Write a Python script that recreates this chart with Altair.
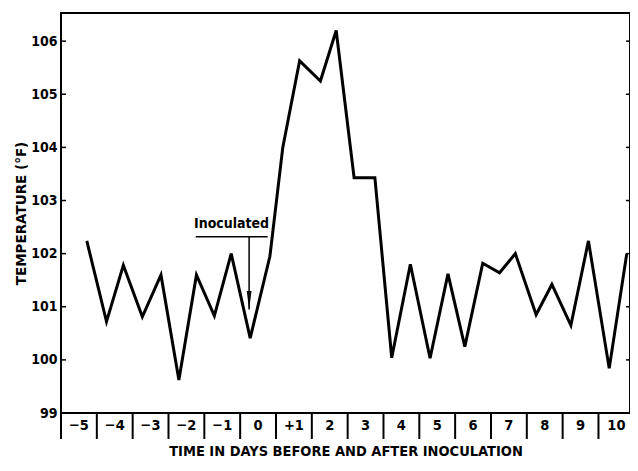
import altair as alt
import pandas as pd

# ---- data ----
times = [-4.78, -4.23, -3.76, -3.23, -2.71, -2.21, -1.72, -1.22, -0.75, -0.22,
         0.33, 0.69, 1.16, 1.74, 2.18, 2.68, 3.26, 3.73, 4.25, 4.80,
         5.30, 5.77, 6.27, 6.74, 7.18, 7.76, 8.20, 8.73, 9.22, 9.80, 10.29]
temps = [102.24, 100.72, 101.78, 100.81, 101.60, 99.62, 101.60, 100.83, 102.00, 100.41,
         101.95, 104.00, 105.63, 105.25, 106.20, 103.43, 103.43, 100.04, 101.80, 100.03,
         101.62, 100.25, 101.82, 101.64, 102.00, 100.85, 101.42, 100.65, 102.24, 99.84, 102.00]
day_values = [-5, -4, -3, -2, -1, 0, 1, 2, 3, 4, 5, 6, 7, 8, 9, 10]
day_labels = ["−5", "−4", "−3", "−2", "−1", "0", "+1", "2", "3", "4", "5", "6", "7", "8", "9", "10"]
day_edges = [-5.5, -4.5, -3.5, -2.5, -1.5, -0.5, 0.5, 1.5, 2.5, 3.5, 4.5, 5.5, 6.5, 7.5, 8.5, 9.5]
left_ticks = [99, 100, 101, 102, 103, 104, 105, 106]
right_ticks = [100, 101, 102, 103, 104, 105, 106]
inoc_text = ["Inoculated"]
inoc_text_x = [-0.74]
inoc_text_y = [102.55]
inoc_line_x = [-1.74]
inoc_line_x2 = [0.27]
inoc_line_y = [102.32]
arrow_x = [-0.25]
arrow_top = [102.32]
arrow_tip = [100.95]
arrow_head_y = [101.12]

W, H = 569, 400
FONT = "DejaVu Sans Condensed, sans-serif"

xs = alt.Scale(domain=[-5.5, 10.38], nice=False, zero=False)
ys = alt.Scale(domain=[99, 106.53], nice=False, zero=False)

XAX = alt.Axis(title="TIME IN DAYS BEFORE AND AFTER INOCULATION", labels=False, ticks=False,
               domain=False, grid=False, titleY=38, titleBaseline="middle",
               titleFont=FONT, titleFontSize=14.5, titleFontWeight="bold", titleColor="black")
YAX = alt.Axis(title="TEMPERATURE (°F)", values=left_ticks, format="d", ticks=False,
               domain=False, grid=False, labelPadding=4, labelFont=FONT, labelFontSize=14,
               labelFontWeight="bold", labelColor="black",
               titleX=-40, titleBaseline="middle", titleFont="DejaVu Sans",
               titleFontSize=13.5, titleFontWeight="bold", titleColor="black")

line_df = pd.DataFrame({"t": times, "temp": temps})
lab_df = pd.DataFrame({"d": day_values, "lab": day_labels})
edge_df = pd.DataFrame({"e": day_edges})
lt_df = pd.DataFrame({"v": left_ticks})
rt_df = pd.DataFrame({"v": right_ticks})
inoc_df = pd.DataFrame({"x": inoc_text_x, "y": inoc_text_y, "txt": inoc_text})
ul_df = pd.DataFrame({"x": inoc_line_x, "x2": inoc_line_x2, "y": inoc_line_y})
ar_df = pd.DataFrame({"x": arrow_x, "y": arrow_top, "y2": arrow_tip, "yh": arrow_head_y})

line = alt.Chart(line_df).mark_line(color="black", strokeWidth=3, strokeJoin="miter").encode(
    x=alt.X("t:Q", scale=xs, axis=XAX),
    y=alt.Y("temp:Q", scale=ys, axis=YAX),
)

seps = alt.Chart(edge_df).mark_rule(color="black", strokeWidth=2).encode(
    x=alt.X("e:Q", scale=xs, axis=XAX),
    y=alt.value(H), y2=alt.value(H + 26),
)

labels = alt.Chart(lab_df).mark_text(font=FONT, fontSize=14.5, fontWeight="bold", color="black",
                                     baseline="middle", align="center").encode(
    x=alt.X("d:Q", scale=xs, axis=XAX),
    y=alt.value(H + 13),
    text="lab:N",
)

lticks = alt.Chart(lt_df).mark_rule(color="black", strokeWidth=1.5).encode(
    y=alt.Y("v:Q", scale=ys, axis=YAX), x=alt.value(0), x2=alt.value(5),
)
rticks = alt.Chart(rt_df).mark_rule(color="black", strokeWidth=1.5).encode(
    y=alt.Y("v:Q", scale=ys, axis=YAX), x=alt.value(W - 4), x2=alt.value(W),
)

inoc = alt.Chart(inoc_df).mark_text(font=FONT, fontSize=14, fontWeight="bold", color="black",
                                    baseline="middle", align="center").encode(
    x=alt.X("x:Q", scale=xs, axis=XAX), y=alt.Y("y:Q", scale=ys, axis=YAX), text="txt:N",
)
underline = alt.Chart(ul_df).mark_rule(color="black", strokeWidth=1.5).encode(
    x=alt.X("x:Q", scale=xs, axis=XAX), x2="x2:Q", y=alt.Y("y:Q", scale=ys, axis=YAX),
)
arrow = alt.Chart(ar_df).mark_rule(color="black", strokeWidth=1.5).encode(
    x=alt.X("x:Q", scale=xs, axis=XAX), y=alt.Y("y:Q", scale=ys, axis=YAX), y2="y2:Q",
)
head = alt.Chart(ar_df).mark_point(shape="M -0.25 -1 L 0.25 -1 L 0 1 Z", filled=True, size=360,
                                   color="black", opacity=1).encode(
    x=alt.X("x:Q", scale=xs, axis=XAX), y=alt.Y("yh:Q", scale=ys, axis=YAX),
)

chart = alt.layer(line, seps, labels, lticks, rticks, inoc, underline, arrow, head).properties(
    width=W, height=H,
    autosize=alt.AutoSizeParams(type="none"),
    padding={"left": 53, "top": 5, "right": 0, "bottom": 45},
).configure(background="white").configure_view(stroke="black", strokeWidth=2)

chart.save("out.html", embed_options={"renderer": "svg", "actions": False})
